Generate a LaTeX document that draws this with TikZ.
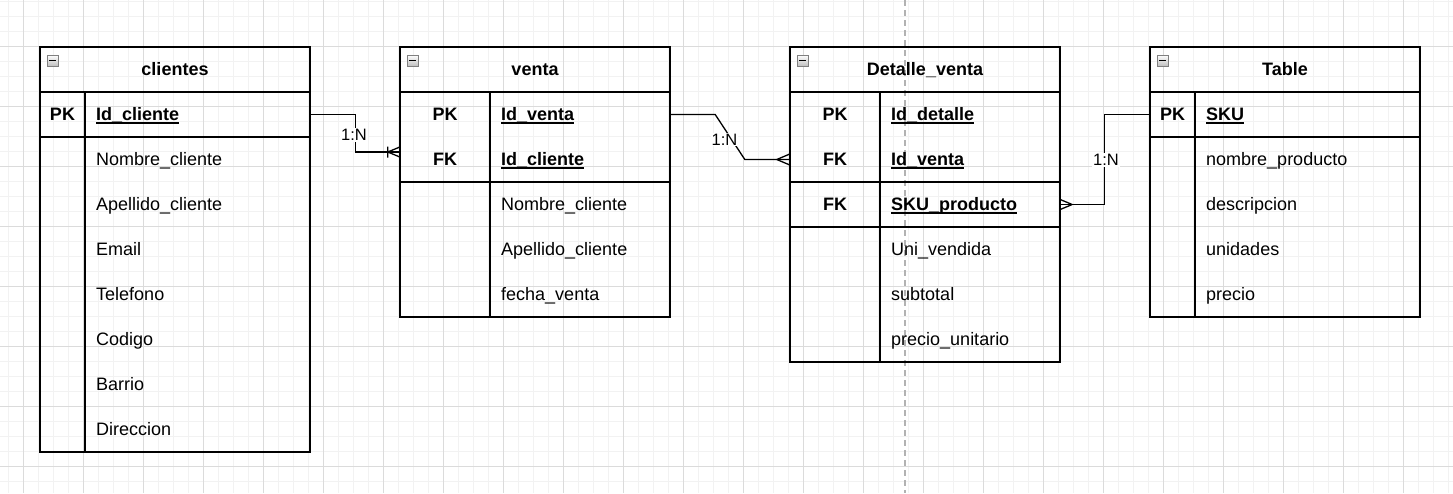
\documentclass[tikz,border=0pt]{standalone}
\usepackage{fontspec}
\setmainfont{Liberation Sans}
\usetikzlibrary{calc}
\newcommand{\keyul}[1]{\setbox0\hbox{#1}\rlap{\rule[-3.3pt]{\wd0}{1.4pt}}\box0}
\tikzset{
 tbl/.style={draw, line width=1.6pt, inner sep=0pt, minimum width=270pt},
 sep/.style={line width=1.6pt},
 fld/.style={anchor=base west, inner sep=0pt, font=\fontsize{18}{20}\selectfont},
 keyf/.style={anchor=base, inner sep=0pt, font=\fontsize{18}{20}\selectfont\bfseries},
 ttl/.style={anchor=base, inner sep=0pt, font=\fontsize{18}{20}\selectfont\bfseries},
 rowbox/.style={minimum width=270pt, minimum height=45pt, inner sep=0pt},
 conn/.style={line width=1.3pt},
 card/.style={fill=white, inner sep=1pt, font=\fontsize{16.5}{18}\selectfont, text depth=0pt},
 icon/.style={draw=black!50, top color=white, bottom color=black!25, line width=0.9pt},
 minorg/.style={draw=black!5, line width=0.9pt},
 majorg/.style={draw=black!14, line width=0.9pt},
}
\begin{document}
\begin{tikzpicture}[x=1pt,y=-1pt]
\useasboundingbox (0,0) rectangle (1453,493);
\fill[white] (0,0) rectangle (1453,493);
% grid
\foreach \x in {8,23,...,1448} \draw[minorg] (\x,0) -- (\x,493);
\foreach \y in {1,16,...,481} \draw[minorg] (0,\y) -- (1453,\y);
\foreach \x in {23,83,...,1403} \draw[majorg] (\x,0) -- (\x,493);
\foreach \y in {46,106,...,466} \draw[majorg] (0,\y) -- (1453,\y);
% page break
\draw[black!30, line width=1.1pt, dash pattern=on 6pt off 4pt] (905,0) -- (905,493);

% ---------- clientes ----------
\node[tbl, minimum height=405pt] (cli) at (175,249.5) {};
\draw[sep] (40,92) -- (310,92);
\draw[sep] (40,137) -- (310,137);
\draw[sep] (85,92) -- (85,452);
\draw[icon] (47,55) rectangle (58,66);
\draw[line width=1.8pt] (49,60.5) -- (56,60.5);
\node[ttl] (cli-t) at (175,75) {clientes};
\node[keyf] (cli-k1) at (62.5,120.2) {PK};
\node[fld,font=\fontsize{18}{20}\selectfont\bfseries] (cli-f1) at (96,120.2) {\keyul{Id\_cliente}};
\foreach \t [count=\i] in {Nombre\_cliente,Apellido\_cliente,Email,Telefono,Codigo,Barrio,Direccion}
  \node[fld] (cli-r\i) at (96,120.2+45*\i) {\t};

% ---------- venta ----------
\node[tbl, minimum height=270pt] (ven) at (535,182) {};
\draw[sep] (400,92) -- (670,92);
\draw[sep] (400,182) -- (670,182);
\draw[sep] (490,92) -- (490,317);
\draw[icon] (407,55) rectangle (418,66);
\draw[line width=1.8pt] (409,60.5) -- (416,60.5);
\node[ttl] (ven-t) at (535,75) {venta};
\node[keyf] (ven-k1) at (445,120.2) {PK};
\node[keyf] (ven-k2) at (445,165.2) {FK};
\node[fld,font=\fontsize{18}{20}\selectfont\bfseries] (ven-f1) at (501,120.2) {\keyul{Id\_venta}};
\node[fld,font=\fontsize{18}{20}\selectfont\bfseries] (ven-f2) at (501,165.2) {\keyul{Id\_cliente}};
\foreach \t [count=\i] in {Nombre\_cliente,Apellido\_cliente,fecha\_venta}
  \node[fld] (ven-r\i) at (501,165.2+45*\i) {\t};

% ---------- Detalle_venta ----------
\node[tbl, minimum height=315pt] (det) at (925,204.5) {};
\draw[sep] (790,92) -- (1060,92);
\draw[sep] (790,182) -- (1060,182);
\draw[sep] (790,227) -- (1060,227);
\draw[sep] (880,92) -- (880,362);
\draw[icon] (797,55) rectangle (808,66);
\draw[line width=1.8pt] (799,60.5) -- (806,60.5);
\node[ttl] (det-t) at (925,75) {Detalle\_venta};
\node[keyf] (det-k1) at (835,120.2) {PK};
\node[keyf] (det-k2) at (835,165.2) {FK};
\node[keyf] (det-k3) at (835,210.2) {FK};
\node[fld,font=\fontsize{18}{20}\selectfont\bfseries] (det-f1) at (891,120.2) {\keyul{Id\_detalle}};
\node[fld,font=\fontsize{18}{20}\selectfont\bfseries] (det-f2) at (891,165.2) {\keyul{Id\_venta}};
\node[fld,font=\fontsize{18}{20}\selectfont\bfseries] (det-f3) at (891,210.2) {\keyul{SKU\_producto}};
\foreach \t [count=\i] in {Uni\_vendida,subtotal,precio\_unitario}
  \node[fld] (det-r\i) at (891,210.2+45*\i) {\t};

% ---------- Table ----------
\node[tbl, minimum height=270pt] (tab) at (1285,182) {};
\draw[sep] (1150,92) -- (1420,92);
\draw[sep] (1150,137) -- (1420,137);
\draw[sep] (1195,92) -- (1195,317);
\draw[icon] (1157,55) rectangle (1168,66);
\draw[line width=1.8pt] (1159,60.5) -- (1166,60.5);
\node[ttl] (tab-t) at (1285,75) {Table};
\node[keyf] (tab-k1) at (1172.5,120.2) {PK};
\node[fld,font=\fontsize{18}{20}\selectfont\bfseries] (tab-f1) at (1206,120.2) {\keyul{SKU}};
\foreach \t [count=\i] in {nombre\_producto,descripcion,unidades,precio}
  \node[fld] (tab-r\i) at (1206,120.2+45*\i) {\t};

% ---------- row anchors ----------
\node[rowbox] (cli-id) at (175,114.5) {};
\node[rowbox] (ven-id) at (535,114.5) {};
\node[rowbox] (ven-fk) at (535,159.5) {};
\node[rowbox] (det-fk1) at (925,159.5) {};
\node[rowbox] (det-fk2) at (925,204.5) {};
\node[rowbox] (tab-pk) at (1285,114.5) {};

% ---------- connectors ----------
% clientes -> venta (one to many)
\draw[conn] (cli-id.east) -- ++(45,0) |- ([yshift=7.5pt]ven-fk.west) coordinate (e1);
\draw[conn] ([xshift=-12pt]e1) -- ([yshift=5pt]e1)
            ([xshift=-12pt]e1) -- ([yshift=-5pt]e1)
            ([xshift=-12pt,yshift=5.5pt]e1) -- ([xshift=-12pt,yshift=-5.5pt]e1);
\node[card] (l1) at (354,135) {1:N};

% venta -> Detalle_venta (many)
\draw[conn] (ven-id.east) -- ++(45,0) -- ([xshift=-45pt]det-fk1.west) -- (det-fk1.west) coordinate (e2);
\draw[conn] ([xshift=-13pt]e2) -- ([yshift=5.5pt]e2)
            ([xshift=-13pt]e2) -- ([yshift=-5.5pt]e2);
\node[card] (l2) at (724.5,139.5) {1:N};

% Table -> Detalle_venta (many)
\draw[conn] (tab-pk.west) -- ++(-45,0) |- (det-fk2.east) coordinate (e3);
\draw[conn] ([xshift=12pt]e3) -- ([yshift=5pt]e3)
            ([xshift=12pt]e3) -- ([yshift=-5pt]e3);
\node[card] (l3) at (1106,160) {1:N};
\end{tikzpicture}
\end{document}
